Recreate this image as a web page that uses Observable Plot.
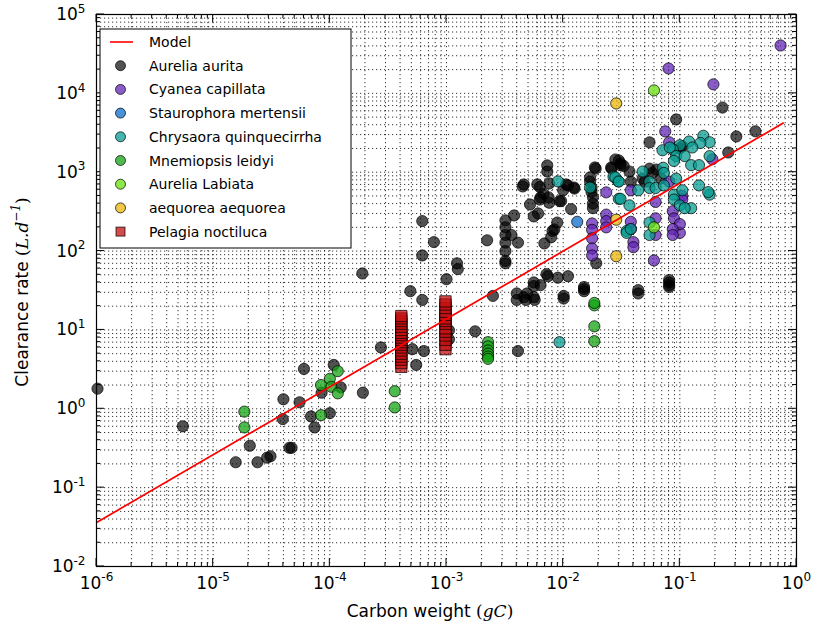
<!DOCTYPE html>
<html><head><meta charset="utf-8">
<script src="https://cdn.jsdelivr.net/npm/d3@7"></script>
<script src="https://cdn.jsdelivr.net/npm/@observablehq/plot@0.6"></script>
<style>
body{margin:0;background:#fff;font-family:"DejaVu Sans",sans-serif;}
#wrap{position:relative;width:814px;height:632px;}
</style></head><body><div id="wrap"></div>
<script>
// ---- data (carbon weight gC, clearance rate L/d) ----
const aureliaAurita = [
 [1.02e-6,1.8],[5.5e-6,0.6],[1.56e-5,0.21],[2.06e-5,0.34],[2.4e-5,0.21],[2.9e-5,0.24],[3.1e-5,0.25],
 [4.5e-5,0.32],[4.7e-5,0.32],[3.95e-5,0.74],[4.0e-5,1.32],[5.5e-5,1.21],[6.0e-5,3.2],[6.9e-5,0.8],
 [7.4e-5,0.58],[8.5e-5,1.6],[1.0e-4,0.88],[1.08e-4,3.6],[1.24e-4,1.87],[1.92e-4,1.6],[2.74e-4,6.0],[1.9e-4,52],
 [6.2e-4,240],[7.8e-4,130],[6.2e-4,88],[1.23e-3,70],[1.25e-3,59],[1.0e-3,44],[4.9e-4,31],[6.2e-4,24],
 [5.1e-4,5.7],[6.4e-4,5.4],[5.5e-4,3.6],[1.05e-3,9.9],[1.05e-3,7.6],[1.76e-3,9.6],[2.23e-3,137],[2.5e-3,27],[4.1e-3,5.4],
 [3.2e-3,245],[3.2e-3,200],[3.2e-3,160],[3.2e-3,128],[3.2e-3,100],[3.2e-3,75],[3.2e-3,70],[3.8e-3,283],[3.6e-3,160],
 [4.1e-3,128],[4.6e-3,700],[6.0e-3,700],[6.3e-3,650],[7.3e-3,1220],[7.3e-3,1020],[5.2e-3,390],[5.6e-3,275],[6.1e-3,300],
 [6.4e-3,480],[6.8e-3,530],[7.5e-3,480],[7.6e-3,410],[1.0e-2,590],[1.06e-2,700],[1.24e-2,640],[1.17e-2,340],[8.4e-3,188],
 [7.9e-3,150],[6.9e-3,125],[5.6e-3,40],[5.6e-3,36],[7.2e-3,51],[7.4e-3,48],[9e-3,46],[1.1e-2,48],[6.4e-3,37],[4.9e-3,29],
 [4.6e-3,26],[4.8e-3,24],[4.0e-3,29],[4.0e-3,24],[5.6e-3,26],[5.7e-3,24],[1.01e-2,27],[1.01e-2,25],[1.51e-2,35],[1.51e-2,31],[1.51e-2,33],
 [1.7e-2,860],[1.7e-2,760],[1.75e-2,640],[1.75e-2,560],[1.8e-2,480],[1.8e-2,400],[1.8e-2,350],[1.92e-2,70],[1.87e-2,1150],
 [2.58e-2,1150],[2.8e-2,1450],[3.1e-2,1300],[4.5e-3,660],[7.6e-3,720],[1.1e-2,680],[1.25e-2,620],[6.3e-3,450],[9.6e-3,430],
 [8.9e-3,230],[8.1e-3,180],[9.3e-3,430],
 [0.232,6600],[0.093,4670],[0.305,2840],[0.445,3300],[0.26,1780],[0.055,2390],[0.105,2130],[0.1,2000],[0.03,1410],[0.031,1230],
 [0.026,1110],[0.037,1020],[0.019,1110],[0.055,1110],[0.058,980],[0.063,1080],[0.048,830],[0.069,830],[0.05,760],[0.038,760],
 [0.033,1200],[0.044,32],[0.044,29],[0.081,40],[0.081,37],[0.081,35],[0.081,43]
];
const cyaneaCapillata = [
 [0.73,40500],[0.08,20700],[0.194,13000],[0.075,3290],[0.081,2400],[0.19,1460],[2.34e-2,555],[1.77e-2,224],[1.77e-2,186],
 [1.77e-2,145],[1.77e-2,108],[1.77e-2,88],[2.34e-2,290],[2.34e-2,240],[2.34e-2,200],[0.038,590],[0.062,420],[0.081,760],
 [0.087,320],[0.089,260],[0.105,500],[0.105,450],[0.1,170],[0.1,220],[0.087,190],[0.087,160],[0.062,260],[0.062,160],
 [0.04,130],[0.04,112],[0.06,76],[0.038,190],[0.038,235]
];
const staurophoraMertensii = [[1.32e-2,235]];
const chrysaoraQuinquecirrha = [
 [9.0e-3,765],[9.3e-3,7.0],[1.7e-2,640],[2.7e-2,880],[2.96e-2,770],[3.0e-2,460],[3.5e-2,180],[0.159,2900],[0.18,2400],
 [0.15,2350],[0.12,2450],[0.128,2060],[0.1,2200],[0.087,1950],[0.071,1900],[0.082,2060],[0.093,1600],[0.089,1390],[0.11,1600],
 [0.125,1230],[0.146,1230],[0.18,1600],[0.028,860],[0.03,760],[0.048,1020],[0.055,760],[0.072,1140],[0.073,980],[0.055,630],
 [0.062,630],[0.073,680],[0.093,830],[0.044,590],[0.089,520],[0.105,590],[0.089,450],[0.1,380],[0.125,350],[0.11,350],
 [0.146,680],[0.18,520],[0.031,460],[0.037,380],[0.035,170],[0.055,230],[0.055,160],[0.038,190],[0.175,560]
];
const mnemiopsisLeidyi = [
 [1.85e-2,20.5],[1.85e-2,22],[1.85e-2,11.1],[1.85e-2,7.2],[2.27e-3,7.0],[2.27e-3,6.2],[2.27e-3,5.5],[2.27e-3,5.0],
 [2.27e-3,4.6],[2.27e-3,4.3],[3.6e-4,1.67],[3.6e-4,1.04],[1.85e-5,0.92],[1.85e-5,0.58],[8.4e-5,2.0],[1.17e-4,3.0],
 [1.0e-4,2.4],[1.03e-4,1.9],[1.17e-4,1.57],[8.4e-5,0.83]
];
const aureliaLabiata = [[0.06,10900],[0.06,200]];
const aequoreaAequorea = [[2.85e-2,7450],[2.85e-2,250],[2.85e-2,86]];
const pelagiaNoctiluca = [
 [4.1e-4,3.4],[4.1e-4,3.8],[4.1e-4,4.2],[4.1e-4,4.6],[4.1e-4,5.0],[4.1e-4,5.5],[4.1e-4,6.0],[4.1e-4,6.5],[4.1e-4,7.0],
 [4.1e-4,7.5],[4.1e-4,8.0],[4.1e-4,8.6],[4.1e-4,9.2],[4.1e-4,10],[4.1e-4,11],[4.1e-4,12],[4.1e-4,13],[4.1e-4,14],[4.1e-4,15],
 [9.8e-4,5.7],[9.8e-4,6.5],[9.8e-4,7.5],[9.8e-4,8.5],[9.8e-4,9.5],[9.8e-4,10.5],[9.8e-4,12],[9.8e-4,13],[9.8e-4,14],
 [9.8e-4,15.5],[9.8e-4,17],[9.8e-4,19],[9.8e-4,21],[9.8e-4,23]
];
const modelLine = [[1.02e-6,0.0367],[0.77,4200]];

const seriesNames = ["Aurelia aurita","Cyanea capillata","Staurophora mertensii","Chrysaora quinquecirrha",
  "Mnemiopsis leidyi","Aurelia Labiata","aequorea aequorea","Pelagia noctiluca"];
const seriesData = [aureliaAurita,cyaneaCapillata,staurophoraMertensii,chrysaoraQuinquecirrha,
  mnemiopsisLeidyi,aureliaLabiata,aequoreaAequorea,pelagiaNoctiluca];
const seriesColors = ["#000000","#6326b6","#0e6ecb","#079c92","#14a414","#68e00e","#ebb60b","#c41010"];
const seriesOpacity = [0.68,0.75,0.75,0.75,0.75,0.75,0.75,0.75];
const seriesSymbol = ["circle","circle","circle","circle","circle","circle","circle","square"];

const xMajor = [1e-6,1e-5,1e-4,1e-3,1e-2,1e-1,1];
const yMajor = [1e-2,1e-1,1,10,100,1e3,1e4,1e5];
const minorOf = majors => majors.slice(0,-1).flatMap(m => [2,3,4,5,6,7,8,9].map(k => k*m));
const xMinor = minorOf(xMajor), yMinor = minorOf(yMajor);
const expLabel = d => "10^" + Math.round(Math.log10(d));

const W=814,H=632,ML=96,MR=18,MT=14,MB=66;

const dotMarks = seriesData.map((arr,i) => Plot.dot(arr, {
  x: d=>d[0], y: d=>d[1], r: seriesSymbol[i]==="square" ? 6.4 : 5.6, symbol: seriesSymbol[i],
  fill: seriesColors[i], fillOpacity: seriesOpacity[i],
  stroke: "#000", strokeOpacity: 0.7, strokeWidth: 1
}));

const plot = Plot.plot({
  width: W, height: H, marginLeft: ML, marginRight: MR, marginTop: MT, marginBottom: MB,
  style: {background:"#fff", fontFamily:"DejaVu Sans, sans-serif", fontSize:"17px", color:"#000", overflow:"visible"},
  x: {type:"log", domain:[1e-6,1]},
  y: {type:"log", domain:[1e-2,1e5]},
  marks: [
    Plot.ruleX(xMajor.concat(xMinor), {x:d=>d, stroke:"#000", strokeWidth:0.8, strokeDasharray:"1.2,2.8"}),
    Plot.ruleY(yMajor.concat(yMinor), {y:d=>d, stroke:"#000", strokeWidth:0.8, strokeDasharray:"1.2,2.8"}),
    ...dotMarks,
    Plot.line(modelLine, {x:d=>d[0], y:d=>d[1], stroke:"#ff0000", strokeWidth:1.7}),
    Plot.frame({stroke:"#000", strokeWidth:1.2}),
    Plot.axisX(xMajor, {tickSize:0, tickPadding:10, tickFormat: expLabel, fontSize:17, label:null}),
    Plot.axisY(yMajor, {tickSize:0, tickPadding:11, tickFormat: expLabel, fontSize:17, label:null})
  ]
});
document.getElementById("wrap").appendChild(plot);

const svg = d3.select(plot);
// superscript exponents in tick labels
svg.selectAll('g[aria-label="x-axis tick label"] text, g[aria-label="y-axis tick label"] text').each(function(){
  const t = d3.select(this); const s = t.text(); const parts = s.split("^");
  t.text(parts[0]);
  t.append("tspan").attr("dy","-0.6em").attr("font-size","12px").text(parts[1]);
});

// inward ticks on all four sides
const sx = plot.scale("x"), sy = plot.scale("y");
const x0 = ML, x1 = W-MR, y0 = MT, y1 = H-MB;
const tg = svg.append("g").attr("stroke","#000").attr("stroke-width",1);
function tickX(v,len){ const px = sx.apply(v);
  tg.append("line").attr("x1",px).attr("x2",px).attr("y1",y1).attr("y2",y1-len);
  tg.append("line").attr("x1",px).attr("x2",px).attr("y1",y0).attr("y2",y0+len); }
function tickY(v,len){ const py = sy.apply(v);
  tg.append("line").attr("y1",py).attr("y2",py).attr("x1",x0).attr("x2",x0+len);
  tg.append("line").attr("y1",py).attr("y2",py).attr("x1",x1).attr("x2",x1-len); }
xMajor.forEach(v=>tickX(v,8)); xMinor.forEach(v=>tickX(v,4));
yMajor.forEach(v=>tickY(v,8)); yMinor.forEach(v=>tickY(v,4));

// axis titles
const xt = svg.append("text").attr("x",430).attr("y",617).attr("text-anchor","middle")
  .attr("font-size",17).attr("font-family","DejaVu Sans, sans-serif").attr("fill","#000");
xt.append("tspan").text("Carbon weight ");
xt.append("tspan").attr("font-family","DejaVu Serif, serif").text("(");
xt.append("tspan").attr("font-family","DejaVu Serif, serif").attr("font-style","italic").text("gC");
xt.append("tspan").attr("font-family","DejaVu Serif, serif").text(")");

const yt = svg.append("text").attr("transform","translate(28,292) rotate(-90)").attr("text-anchor","middle")
  .attr("font-size",17).attr("font-family","DejaVu Sans, sans-serif").attr("fill","#000");
yt.append("tspan").text("Clearance rate ");
yt.append("tspan").attr("font-family","DejaVu Serif, serif").text("(");
yt.append("tspan").attr("font-family","DejaVu Serif, serif").attr("font-style","italic").text("L.d");
yt.append("tspan").attr("font-family","DejaVu Serif, serif").attr("font-style","italic").attr("font-size",12).attr("dy","-0.7em").text("−1");
yt.append("tspan").attr("font-family","DejaVu Serif, serif").attr("dy","0.5em").text(")");

// legend
const lg = svg.append("g").attr("font-family","DejaVu Sans, sans-serif").attr("font-size",14).attr("text-anchor","start");
lg.append("rect").attr("x",100).attr("y",29).attr("width",251).attr("height",219)
  .attr("fill","#fff").attr("stroke","#000").attr("stroke-width",1);
const rowY = i => 42 + i*23.7;
lg.append("line").attr("x1",110).attr("x2",133).attr("y1",rowY(0)).attr("y2",rowY(0)).attr("stroke","#ff0000").attr("stroke-width",1.6);
lg.append("text").attr("x",149).attr("y",rowY(0)).attr("dy","0.36em").attr("text-anchor","start").text("Model");
seriesNames.forEach((n,i)=>{
  const yy = rowY(i+1);
  if (seriesSymbol[i]==="square") {
    lg.append("rect").attr("x",116).attr("y",yy-4.5).attr("width",9).attr("height",9)
      .attr("fill",seriesColors[i]).attr("fill-opacity",seriesOpacity[i]).attr("stroke","#000").attr("stroke-opacity",0.7);
  } else {
    lg.append("circle").attr("cx",120.5).attr("cy",yy).attr("r",5)
      .attr("fill",seriesColors[i]).attr("fill-opacity",seriesOpacity[i]).attr("stroke","#000").attr("stroke-opacity",0.7);
  }
  lg.append("text").attr("x",149).attr("y",yy).attr("dy","0.36em").attr("text-anchor","start").text(n);
});
</script></body></html>
